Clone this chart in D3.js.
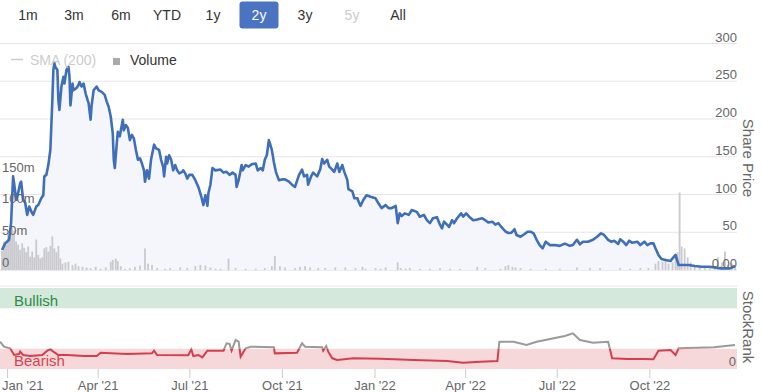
<!DOCTYPE html>
<html>
<head>
<meta charset="utf-8">
<script src="https://cdn.jsdelivr.net/npm/d3@7"></script>
<style>
  html, body { margin: 0; padding: 0; background: #fff; }
  svg { display: block; font-family: "Liberation Sans", Arial, Helvetica, sans-serif; }
</style>
</head>
<body>
<svg id="chart" width="762" height="392"></svg>
<script>
// range selector buttons
const rangeButtons = ['1m', '3m', '6m', 'YTD', '1y', '2y', '3y', '5y', 'All'];
const activeButton = '2y';
const disabledButtons = ['5y'];

// share price (close)
const pricePoints = [
  ['2020-12-27', 26.5], ['2020-12-30', 35], ['2021-01-03', 40], ['2021-01-05', 62], ['2021-01-07', 124],
  ['2021-01-08', 115], ['2021-01-10', 93], ['2021-01-12', 102], ['2021-01-14', 115], ['2021-01-15', 117],
  ['2021-01-17', 93], ['2021-01-19', 89], ['2021-01-21', 73], ['2021-01-23', 84], ['2021-01-26', 75],
  ['2021-01-27', 73], ['2021-01-30', 84], ['2021-02-01', 86], ['2021-02-04', 95], ['2021-02-06', 99],
  ['2021-02-07', 124], ['2021-02-09', 126], ['2021-02-11', 139], ['2021-02-13', 159], ['2021-02-15', 225],
  ['2021-02-16', 265], ['2021-02-17', 274], ['2021-02-18', 269], ['2021-02-20', 265], ['2021-02-21', 225],
  ['2021-02-22', 212], ['2021-02-24', 243], ['2021-02-26', 256], ['2021-02-27', 247], ['2021-03-01', 265],
  ['2021-03-03', 269], ['2021-03-04', 256], ['2021-03-05', 218], ['2021-03-07', 247], ['2021-03-08', 238],
  ['2021-03-11', 241], ['2021-03-13', 245], ['2021-03-14', 249], ['2021-03-16', 243], ['2021-03-18', 247],
  ['2021-03-20', 234], ['2021-03-22', 225], ['2021-03-23', 221], ['2021-03-25', 199], ['2021-03-26', 218],
  ['2021-03-28', 238], ['2021-03-31', 243], ['2021-04-02', 238], ['2021-04-05', 236], ['2021-04-08', 232],
  ['2021-04-10', 223], ['2021-04-12', 216], ['2021-04-14', 203], ['2021-04-16', 181], ['2021-04-17', 146],
  ['2021-04-18', 135], ['2021-04-20', 168], ['2021-04-21', 183], ['2021-04-23', 177], ['2021-04-24', 185],
  ['2021-04-26', 199], ['2021-04-27', 185], ['2021-04-29', 192], ['2021-05-01', 188], ['2021-05-03', 172],
  ['2021-05-05', 179], ['2021-05-07', 174], ['2021-05-09', 159], ['2021-05-11', 146], ['2021-05-13', 148],
  ['2021-05-15', 141], ['2021-05-17', 132], ['2021-05-18', 117], ['2021-05-20', 132], ['2021-05-22', 121],
  ['2021-05-24', 146], ['2021-05-27', 166], ['2021-05-29', 161], ['2021-06-01', 159], ['2021-06-03', 146],
  ['2021-06-05', 137], ['2021-06-06', 124], ['2021-06-08', 150], ['2021-06-09', 141], ['2021-06-11', 152],
  ['2021-06-13', 146], ['2021-06-15', 132], ['2021-06-17', 139], ['2021-06-19', 132], ['2021-06-21', 128],
  ['2021-06-24', 130], ['2021-06-25', 132], ['2021-06-27', 128], ['2021-06-29', 121], ['2021-07-01', 126],
  ['2021-07-04', 126], ['2021-07-07', 119], ['2021-07-10', 110], ['2021-07-13', 97], ['2021-07-15', 86],
  ['2021-07-17', 99], ['2021-07-19', 85], ['2021-07-20', 102], ['2021-07-22', 113], ['2021-07-24', 135],
  ['2021-07-27', 132], ['2021-08-01', 133], ['2021-08-04', 129], ['2021-08-07', 130], ['2021-08-10', 126],
  ['2021-08-13', 129], ['2021-08-16', 126], ['2021-08-17', 110], ['2021-08-19', 119], ['2021-08-22', 139],
  ['2021-08-23', 132], ['2021-08-26', 139], ['2021-08-29', 137], ['2021-09-01', 140], ['2021-09-05', 141],
  ['2021-09-07', 132], ['2021-09-10', 135], ['2021-09-12', 132], ['2021-09-14', 146], ['2021-09-16', 152],
  ['2021-09-18', 172], ['2021-09-19', 168], ['2021-09-21', 159], ['2021-09-23', 143], ['2021-09-25', 130],
  ['2021-09-28', 119], ['2021-10-01', 120], ['2021-10-04', 120], ['2021-10-08', 117], ['2021-10-11', 113],
  ['2021-10-14', 110], ['2021-10-18', 126], ['2021-10-21', 133], ['2021-10-23', 124], ['2021-10-26', 126],
  ['2021-10-27', 113], ['2021-10-30', 124], ['2021-11-01', 129], ['2021-11-05', 124], ['2021-11-08', 133],
  ['2021-11-10', 147], ['2021-11-12', 141], ['2021-11-15', 146], ['2021-11-17', 137], ['2021-11-20', 133],
  ['2021-11-22', 130], ['2021-11-25', 141], ['2021-11-27', 130], ['2021-11-30', 139], ['2021-12-02', 130],
  ['2021-12-05', 119], ['2021-12-06', 107], ['2021-12-10', 104], ['2021-12-12', 95], ['2021-12-15', 95],
  ['2021-12-16', 91], ['2021-12-18', 85], ['2021-12-21', 93], ['2021-12-24', 99], ['2021-12-28', 97],
  ['2022-01-02', 95], ['2022-01-05', 88], ['2022-01-08', 82], ['2022-01-12', 86], ['2022-01-15', 82],
  ['2022-01-18', 82], ['2022-01-22', 85], ['2022-01-24', 62], ['2022-01-26', 75], ['2022-01-28', 71.5],
  ['2022-01-31', 75], ['2022-02-04', 73], ['2022-02-07', 79.5], ['2022-02-12', 77], ['2022-02-15', 70.6],
  ['2022-02-19', 73], ['2022-02-22', 66], ['2022-02-25', 62], ['2022-02-28', 68.5], ['2022-03-04', 70],
  ['2022-03-07', 60], ['2022-03-09', 55], ['2022-03-11', 64], ['2022-03-14', 60], ['2022-03-16', 57],
  ['2022-03-19', 66], ['2022-03-21', 62], ['2022-03-24', 68.5], ['2022-03-28', 75], ['2022-03-30', 70.6],
  ['2022-04-02', 75], ['2022-04-05', 70.6], ['2022-04-09', 66], ['2022-04-13', 67], ['2022-04-18', 68.5],
  ['2022-04-21', 66], ['2022-04-24', 63], ['2022-04-28', 64], ['2022-05-01', 60], ['2022-05-04', 62],
  ['2022-05-07', 57], ['2022-05-11', 51], ['2022-05-14', 49], ['2022-05-17', 49.4], ['2022-05-20', 54],
  ['2022-05-22', 46.4], ['2022-05-26', 44], ['2022-05-30', 47.7], ['2022-06-02', 50.7], ['2022-06-05', 50.7],
  ['2022-06-08', 48.6], ['2022-06-11', 40], ['2022-06-14', 33], ['2022-06-17', 28.7], ['2022-06-20', 37.5],
  ['2022-06-24', 33], ['2022-06-29', 33], ['2022-07-04', 32], ['2022-07-09', 35], ['2022-07-14', 32],
  ['2022-07-17', 33], ['2022-07-21', 40], ['2022-07-24', 34], ['2022-07-27', 37.5], ['2022-08-01', 37.5],
  ['2022-08-06', 40], ['2022-08-10', 44], ['2022-08-14', 48.6], ['2022-08-17', 46.4], ['2022-08-21', 40],
  ['2022-08-24', 37.5], ['2022-08-27', 38.8], ['2022-08-31', 34.4], ['2022-09-02', 40.7], ['2022-09-05', 37.5],
  ['2022-09-08', 33], ['2022-09-11', 38.8], ['2022-09-14', 36], ['2022-09-19', 37.5], ['2022-09-22', 33],
  ['2022-09-26', 37.5], ['2022-09-29', 33], ['2022-10-02', 35.3], ['2022-10-05', 35.3], ['2022-10-07', 28.7],
  ['2022-10-10', 20], ['2022-10-13', 14.6], ['2022-10-17', 13.2], ['2022-10-22', 12], ['2022-10-24', 15.5],
  ['2022-10-27', 20], ['2022-10-28', 15.5], ['2022-10-30', 6.6], ['2022-11-04', 6.6], ['2022-11-09', 6.6],
  ['2022-11-15', 5.3], ['2022-11-22', 4.4], ['2022-11-29', 4.4], ['2022-12-05', 3.5], ['2022-12-10', 2.2],
  ['2022-12-15', 2.2], ['2022-12-20', 2.2], ['2022-12-25', 5.3]
];

// volume in millions of shares
const volumePoints = [
  ['2020-12-27', 30], ['2020-12-29', 45], ['2020-12-31', 40], ['2021-01-02', 55], ['2021-01-04', 60],
  ['2021-01-06', 66], ['2021-01-08', 62], ['2021-01-10', 45], ['2021-01-12', 40], ['2021-01-14', 32],
  ['2021-01-16', 42], ['2021-01-18', 35], ['2021-01-20', 28], ['2021-01-22', 37], ['2021-01-24', 21],
  ['2021-01-26', 29], ['2021-01-28', 20], ['2021-01-30', 48], ['2021-02-01', 24], ['2021-02-03', 18],
  ['2021-02-05', 20], ['2021-02-07', 34], ['2021-02-09', 36], ['2021-02-11', 29], ['2021-02-13', 38],
  ['2021-02-15', 53], ['2021-02-17', 34], ['2021-02-19', 28], ['2021-02-21', 38], ['2021-02-23', 18],
  ['2021-02-25', 10], ['2021-02-28', 12], ['2021-03-03', 13], ['2021-03-07', 8], ['2021-03-10', 10],
  ['2021-03-13', 6], ['2021-03-17', 5], ['2021-03-21', 4], ['2021-03-25', 3], ['2021-03-30', 5],
  ['2021-04-04', 2], ['2021-04-09', 4], ['2021-04-14', 13], ['2021-04-16', 16], ['2021-04-19', 18],
  ['2021-04-21', 14], ['2021-04-24', 6], ['2021-04-28', 2], ['2021-05-03', 3], ['2021-05-08', 5],
  ['2021-05-13', 7], ['2021-05-18', 34], ['2021-05-21', 10], ['2021-05-25', 8], ['2021-05-30', 3],
  ['2021-06-07', 2], ['2021-06-12', 3], ['2021-06-22', 4], ['2021-06-29', 3], ['2021-07-07', 6],
  ['2021-07-12', 8], ['2021-07-17', 7], ['2021-07-22', 4], ['2021-07-27', 2], ['2021-08-01', 2],
  ['2021-08-09', 18], ['2021-08-16', 3], ['2021-08-26', 2], ['2021-09-05', 2], ['2021-09-14', 3],
  ['2021-09-21', 6], ['2021-09-24', 22], ['2021-09-29', 6], ['2021-10-04', 4], ['2021-10-14', 3],
  ['2021-10-19', 5], ['2021-10-24', 6], ['2021-10-29', 4], ['2021-11-06', 3], ['2021-11-13', 3],
  ['2021-11-23', 4], ['2021-12-03', 4], ['2021-12-13', 3], ['2021-12-20', 5], ['2021-12-23', 2],
  ['2022-01-02', 3], ['2022-01-07', 2], ['2022-01-12', 4], ['2022-01-24', 12], ['2022-01-27', 3],
  ['2022-02-01', 2], ['2022-02-05', 3], ['2022-02-15', 2], ['2022-02-25', 2], ['2022-03-07', 3],
  ['2022-03-17', 2], ['2022-03-27', 2], ['2022-04-13', 5], ['2022-04-21', 3], ['2022-05-06', 2],
  ['2022-05-11', 6], ['2022-05-14', 8], ['2022-05-18', 5], ['2022-05-21', 4], ['2022-05-26', 3],
  ['2022-06-05', 2], ['2022-06-20', 2], ['2022-07-04', 2], ['2022-07-21', 4], ['2022-08-03', 3],
  ['2022-08-13', 3], ['2022-09-02', 3], ['2022-09-12', 2], ['2022-09-22', 3], ['2022-09-30', 3],
  ['2022-10-07', 10], ['2022-10-10', 14], ['2022-10-14', 13], ['2022-10-17', 18], ['2022-10-20', 10],
  ['2022-10-24', 12], ['2022-10-27', 25], ['2022-10-29', 28], ['2022-10-31', 122], ['2022-11-02', 37],
  ['2022-11-05', 34], ['2022-11-08', 20], ['2022-11-11', 12], ['2022-11-15', 8], ['2022-11-20', 5],
  ['2022-11-25', 3], ['2022-11-30', 2], ['2022-12-05', 5], ['2022-12-08', 20], ['2022-12-12', 12],
  ['2022-12-15', 29], ['2022-12-18', 8], ['2022-12-22', 10], ['2022-12-25', 6]
];

// StockRank (0-100)
const rankPoints = [
  ['2020-12-25', 33.7], ['2020-12-29', 27.5], ['2021-01-04', 25.5], ['2021-01-08', 17.3], ['2021-01-13', 18.5],
  ['2021-01-14', 21.4], ['2021-01-17', 17.3], ['2021-01-24', 16], ['2021-02-05', 17.3], ['2021-02-10', 22.6],
  ['2021-02-13', 24.5], ['2021-02-16', 21.4], ['2021-02-21', 17.3], ['2021-03-02', 17.3], ['2021-03-18', 16],
  ['2021-03-31', 16], ['2021-04-04', 20], ['2021-04-30', 18.5], ['2021-05-25', 19.3], ['2021-05-27', 22.6],
  ['2021-05-30', 17.3], ['2021-06-30', 17], ['2021-07-03', 24.3], ['2021-07-05', 16], ['2021-07-10', 17.3],
  ['2021-07-14', 14.4], ['2021-07-19', 22.6], ['2021-08-04', 22.6], ['2021-08-07', 31.7], ['2021-08-10', 30.9],
  ['2021-08-12', 22.6], ['2021-08-16', 35.8], ['2021-08-19', 33.7], ['2021-08-21', 15.2], ['2021-08-26', 25.5],
  ['2021-08-31', 27.5], ['2021-09-23', 26.8], ['2021-09-24', 19.3], ['2021-10-16', 20.1], ['2021-10-21', 31.7],
  ['2021-10-24', 27.5], ['2021-11-10', 26.8], ['2021-11-11', 22.6], ['2021-11-14', 28.4], ['2021-11-16', 21.4],
  ['2021-11-20', 13.2], ['2021-11-25', 11.1], ['2021-12-11', 13.2], ['2022-01-07', 12.8], ['2022-02-09', 11.1],
  ['2022-03-14', 9.9], ['2022-03-30', 7.8], ['2022-04-16', 9], ['2022-05-03', 9.9], ['2022-05-05', 33.7],
  ['2022-05-19', 33.7], ['2022-06-01', 29.6], ['2022-06-11', 33.7], ['2022-06-28', 37.9], ['2022-07-09', 40.7],
  ['2022-07-17', 44], ['2022-07-24', 35.8], ['2022-08-06', 32.5], ['2022-08-21', 33.7], ['2022-08-25', 13.2],
  ['2022-09-09', 12.3], ['2022-09-25', 12.3], ['2022-10-05', 12], ['2022-10-10', 22.6], ['2022-10-22', 23.5],
  ['2022-10-27', 17.3], ['2022-10-30', 25.5], ['2022-11-17', 26.3], ['2022-12-04', 26.8], ['2022-12-25', 29.6]
];

const priceTicks = [0, 50, 100, 150, 200, 250, 300];
const volumeTicks = [0, 50, 100, 150];
const rankBands = [
  { name: 'Bullish', from: 75, to: 100, fill: '#d4e9dc', text: '#2f8a45' },
  { name: 'Bearish', from: 0, to: 25, fill: '#f6d8db', text: '#d7434f' }
];
const bearishLevel = 25;

const parse = d3.utcParse('%Y-%m-%d');
const price = pricePoints.map(([d, v]) => ({ date: parse(d), value: v }));
const volume = volumePoints.map(([d, v]) => ({ date: parse(d), value: v }));
const rank = rankPoints.map(([d, v]) => ({ date: parse(d), value: v }));

const PLOT = { left: 0, right: 737, top: 43.5, bottom: 270 };
const RANK = { top: 288, bottom: 369 };

const svg = d3.select('#chart');

const x = d3.scaleUtc()
  .domain([parse('2020-12-25'), parse('2022-12-27')])
  .range([PLOT.left, PLOT.right]);
const yPrice = d3.scaleLinear().domain([0, 300]).range([PLOT.bottom, PLOT.top]);
const yVol = d3.scaleLinear().domain([0, 357]).range([PLOT.bottom, PLOT.top]);
const yRank = d3.scaleLinear().domain([0, 100]).range([RANK.bottom, RANK.top]);

const defs = svg.append('defs');
defs.append('clipPath').attr('id', 'plot-clip')
  .append('rect')
    .attr('x', PLOT.left).attr('y', PLOT.top - 5)
    .attr('width', PLOT.right - PLOT.left).attr('height', PLOT.bottom - PLOT.top + 5);
defs.append('clipPath').attr('id', 'rank-low')
  .append('rect')
    .attr('x', 0).attr('y', yRank(bearishLevel))
    .attr('width', PLOT.right).attr('height', 60);
defs.append('clipPath').attr('id', 'rank-high')
  .append('rect')
    .attr('x', 0).attr('y', RANK.top - 10)
    .attr('width', PLOT.right).attr('height', yRank(bearishLevel) - RANK.top + 10);

// --- range selector
const btnX = [28, 74, 121, 167, 213, 259, 305, 352, 398];
const buttons = svg.append('g').attr('class', 'buttons')
  .selectAll('g')
  .data(rangeButtons)
  .enter()
    .append('g')
    .attr('transform', (d, i) => `translate(${btnX[i]},15)`);

buttons.filter(d => d === activeButton)
  .append('rect')
    .attr('x', -19.5).attr('y', -13.5)
    .attr('width', 39).attr('height', 27)
    .attr('rx', 3)
    .attr('fill', '#4a74c2');

buttons.append('text')
  .attr('text-anchor', 'middle')
  .attr('dy', '0.35em')
  .attr('font-size', 14)
  .attr('fill', d => d === activeButton ? '#fff' : disabledButtons.includes(d) ? '#cccccc' : '#333')
  .text(d => d);

// --- price panel grid
svg.append('g').attr('class', 'grid')
  .selectAll('line')
  .data(priceTicks)
  .enter()
    .append('line')
    .attr('x1', PLOT.left).attr('x2', PLOT.right)
    .attr('y1', d => yPrice(d)).attr('y2', d => yPrice(d))
    .attr('stroke', d => d === 0 ? '#d8d8e0' : '#e6e6e6')
    .attr('stroke-width', 1.2);

const plot = svg.append('g').attr('clip-path', 'url(#plot-clip)');

plot.append('path')
  .datum(price)
  .attr('fill', '#f4f6fb')
  .attr('d', d3.area()
    .x(d => x(d.date))
    .y0(yPrice(0))
    .y1(d => yPrice(d.value)));

plot.append('g').attr('class', 'volume')
  .selectAll('rect')
  .data(volume)
  .enter()
    .append('rect')
    .attr('x', d => x(d.date) - 0.9)
    .attr('width', 1.8)
    .attr('y', d => yVol(d.value))
    .attr('height', d => yVol(0) - yVol(d.value))
    .attr('fill', '#c9c9ce');

plot.append('path')
  .datum(price)
  .attr('fill', 'none')
  .attr('stroke', '#3f6fb8')
  .attr('stroke-width', 2.6)
  .attr('stroke-linejoin', 'round')
  .attr('d', d3.line()
    .x(d => x(d.date))
    .y(d => yPrice(d.value)));

// price axis labels (right, inside)
svg.append('g').attr('class', 'axis-price')
  .selectAll('text')
  .data(priceTicks)
  .enter()
    .append('text')
    .attr('x', 737)
    .attr('y', d => yPrice(d) - 2)
    .attr('text-anchor', 'end')
    .attr('font-size', 13)
    .attr('fill', '#666')
    .text(d => d === 0 ? '0.00' : d);

// volume axis labels (left, inside)
svg.append('g').attr('class', 'axis-volume')
  .selectAll('text')
  .data(volumeTicks)
  .enter()
    .append('text')
    .attr('x', 2)
    .attr('y', d => (PLOT.bottom - d * 0.632) - 3.5)
    .attr('font-size', 13)
    .attr('fill', '#666')
    .text(d => d === 0 ? '0' : `${d}m`);

svg.append('text')
  .attr('transform', 'translate(743,158) rotate(90)')
  .attr('text-anchor', 'middle')
  .attr('font-size', 15)
  .attr('fill', '#666')
  .text('Share Price');

// legend
const legend = svg.append('g').attr('class', 'legend');
legend.append('line')
  .attr('x1', 11).attr('x2', 23).attr('y1', 59.5).attr('y2', 59.5)
  .attr('stroke', '#cccccc').attr('stroke-width', 1.5);
legend.append('text')
  .attr('x', 30).attr('y', 65)
  .attr('font-size', 14).attr('fill', '#cccccc')
  .text('SMA (200)');
legend.append('rect')
  .attr('x', 113).attr('y', 58).attr('width', 7).attr('height', 7)
  .attr('fill', '#aaa');
legend.append('text')
  .attr('x', 130).attr('y', 65)
  .attr('font-size', 14).attr('fill', '#333')
  .text('Volume');

// --- StockRank panel
svg.append('line')
  .attr('x1', 0).attr('x2', PLOT.right)
  .attr('y1', 286).attr('y2', 286)
  .attr('stroke', '#e6e6e6').attr('stroke-width', 1.2);

const bands = svg.append('g').attr('class', 'bands')
  .selectAll('g')
  .data(rankBands)
  .enter()
    .append('g');

bands.append('rect')
  .attr('x', 0)
  .attr('width', PLOT.right)
  .attr('y', d => yRank(d.to))
  .attr('height', d => yRank(d.from) - yRank(d.to))
  .attr('fill', d => d.fill);

const rankLine = d3.line()
  .x(d => x(d.date))
  .y(d => yRank(d.value));

svg.append('path')
  .datum(rank)
  .attr('clip-path', 'url(#rank-high)')
  .attr('fill', 'none')
  .attr('stroke', '#9a9a9a')
  .attr('stroke-width', 2)
  .attr('d', rankLine);

svg.append('path')
  .datum(rank)
  .attr('clip-path', 'url(#rank-low)')
  .attr('fill', 'none')
  .attr('stroke', '#d33f4c')
  .attr('stroke-width', 2)
  .attr('d', rankLine);

bands.append('text')
  .attr('x', 14)
  .attr('y', d => yRank(d.to) + 17.5)
  .attr('font-size', 15)
  .attr('fill', d => d.text)
  .text(d => d.name);

svg.append('text')
  .attr('x', 736).attr('y', 366)
  .attr('text-anchor', 'end')
  .attr('font-size', 13).attr('fill', '#666')
  .text('0');

svg.append('text')
  .attr('transform', 'translate(743,327) rotate(90)')
  .attr('text-anchor', 'middle')
  .attr('font-size', 15)
  .attr('fill', '#666')
  .text('StockRank');

// --- x axis
const xAxis = svg.append('g')
  .attr('class', 'axis-x')
  .attr('transform', `translate(0,${RANK.bottom})`)
  .call(d3.axisBottom(x)
    .ticks(d3.utcMonth.every(3))
    .tickFormat(d3.utcFormat("%b '%y"))
    .tickSize(9)
    .tickPadding(3));

xAxis.select('.domain').remove();
xAxis.selectAll('.tick line').attr('stroke', '#ccc');
xAxis.selectAll('.tick text')
  .attr('font-size', 13)
  .attr('font-family', '"Liberation Sans", Arial, Helvetica, sans-serif')
  .attr('fill', '#666')
  .each(function() {
    const box = this.getBBox();
    const tx = this.parentNode.transform.baseVal.consolidate().matrix.e;
    if (tx + box.x < 2) d3.select(this).attr('x', 2 - (tx + box.x));
  });
</script>
</body>
</html>
